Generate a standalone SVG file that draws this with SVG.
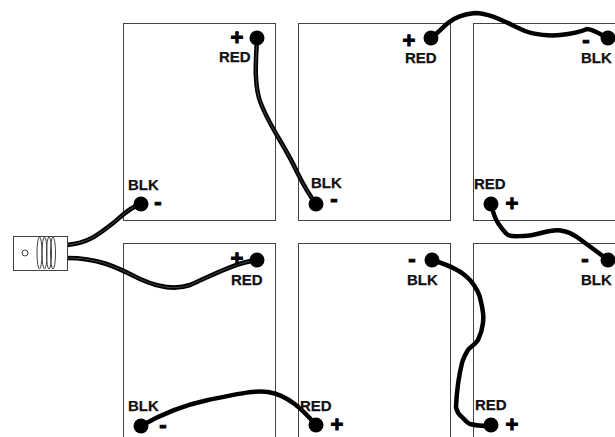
<svg xmlns="http://www.w3.org/2000/svg" width="615" height="437" viewBox="0 0 615 437">
<style>
.box{fill:#fff;stroke:#444;stroke-width:1}
.dot{fill:#000}
.wire{fill:none;stroke:#000;stroke-width:4.500;stroke-linejoin:round;stroke-linecap:round}
.core{fill:none;stroke:#555;stroke-width:.8}
.lbl{font-family:"Liberation Sans",Arial,sans-serif;font-weight:bold;font-size:15px;fill:#111;stroke:#111;stroke-width:.25}
.sgn{font-family:"Liberation Sans",Arial,sans-serif;font-weight:bold;font-size:22px;fill:#000;stroke:#000;stroke-width:1;text-anchor:middle}
.coil{fill:none;stroke:#444;stroke-width:1}
</style>
<rect width="615" height="437" fill="#fff"/>
<g id="panels">
<rect id="panel-1" class="box" x="123.500" y="23.500" width="152" height="197"/>
<rect id="panel-2" class="box" x="298.500" y="23.500" width="152" height="197"/>
<rect id="panel-3" class="box" x="473.500" y="23.500" width="160" height="197"/>
<rect id="panel-4" class="box" x="123.500" y="243.500" width="152" height="210"/>
<rect id="panel-5" class="box" x="298.500" y="243.500" width="152" height="210"/>
<rect id="panel-6" class="box" x="473.500" y="243.500" width="160" height="210"/>
</g>
<g id="connectors">
<path class="wire" d="M67 245C88 243 98 235 112 224C122 216 130 207 141 204"/>
<path class="wire" d="M67 258C100 258 118 268 140 279C160 288 175 290 190 285C215 274 235 263 257 260"/>
<path class="wire" d="M257 38C256 60 254 80 259 98C266 122 285 145 297 172C304 186 310 196 316 204"/>
<path class="wire" d="M431 38C438 33 443 27 448 23C455 17 465 14 475 13C490 13 505 22 525 31C535 35 550 36 560 35C570 34 578 33 587 29C592 29 600 34 608 38"/>
<path class="wire" d="M491 204C493 212 495 219 498 223C502 229 505 233 508 235C513 237 518 236 523 236C535 236 542 232 550 231C556 230 560 230 563 231C570 232 574 235 577 237C585 243 595 250 608 260"/>
<path class="wire" d="M141 426C158 416 180 406 208 400C230 396 250 390 268 392C288 395 303 410 316 425"/>
<path class="wire" d="M432 260C445 264 450 266 457 270C463 273 466 276 470 280C476 287 480 295 481 302C483 310 484 316 483 323C482 332 480 336 478 340C474 346 470 347 468 350C465 355 463 359 462 363C459 375 457 385 456 407C457 412 459 415 462 417C465 420 467 423 470 424C477 426 484 426 491 426"/>
<g class="core">
<path d="M67 245C88 243 98 235 112 224C122 216 130 207 141 204"/>
<path d="M67 258C100 258 118 268 140 279C160 288 175 290 190 285C215 274 235 263 257 260"/>
<path d="M257 38C256 60 254 80 259 98C266 122 285 145 297 172C304 186 310 196 316 204"/>
</g>
</g>
<g id="plug">
<rect x="13.500" y="236.500" width="54" height="34" fill="#fff" stroke="#444"/>
<circle cx="25" cy="253" r="3" fill="#fff" stroke="#444"/>
<ellipse class="coil" cx="39.500" cy="253" rx="2.500" ry="16"/>
<ellipse class="coil" cx="44.500" cy="253" rx="2.500" ry="16"/>
<ellipse class="coil" cx="49" cy="253" rx="2.500" ry="16"/>
<ellipse class="coil" cx="53" cy="253" rx="2.500" ry="16"/>
</g>
<g id="t1"><circle class="dot" cx="257" cy="38" r="7.500"/><text class="sgn" x="237" y="45">+</text><text class="lbl" x="219" y="62">RED</text></g>
<g id="t2"><circle class="dot" cx="141" cy="204" r="7.500"/><text class="sgn" x="158" y="209">-</text><text class="lbl" x="128" y="190">BLK</text></g>
<g id="t3"><circle class="dot" cx="316" cy="204" r="7.500"/><text class="sgn" x="334" y="206">-</text><text class="lbl" x="311" y="188">BLK</text></g>
<g id="t4"><circle class="dot" cx="431" cy="38" r="7.500"/><text class="sgn" x="409" y="48">+</text><text class="lbl" x="405" y="63">RED</text></g>
<g id="t5"><circle class="dot" cx="608" cy="38" r="7.500"/><text class="sgn" x="586" y="47">-</text><text class="lbl" x="581" y="63">BLK</text></g>
<g id="t6"><circle class="dot" cx="491" cy="204" r="7.500"/><text class="sgn" x="512" y="211">+</text><text class="lbl" x="474" y="189">RED</text></g>
<g id="t7"><circle class="dot" cx="257" cy="260" r="7.500"/><text class="sgn" x="237" y="266">+</text><text class="lbl" x="231" y="285">RED</text></g>
<g id="t8"><circle class="dot" cx="432" cy="260" r="7.500"/><text class="sgn" x="412" y="266">-</text><text class="lbl" x="407" y="285">BLK</text></g>
<g id="t9"><circle class="dot" cx="608" cy="260" r="7.500"/><text class="sgn" x="585" y="266">-</text><text class="lbl" x="581" y="285">BLK</text></g>
<g id="t10"><circle class="dot" cx="141" cy="426" r="7.500"/><text class="sgn" x="163" y="432">-</text><text class="lbl" x="128" y="411">BLK</text></g>
<g id="t11"><circle class="dot" cx="316" cy="425" r="7.500"/><text class="sgn" x="337" y="432">+</text><text class="lbl" x="300" y="411">RED</text></g>
<g id="t12"><circle class="dot" cx="491" cy="425" r="7.500"/><text class="sgn" x="512" y="432">+</text><text class="lbl" x="475" y="410">RED</text></g>
</svg>
